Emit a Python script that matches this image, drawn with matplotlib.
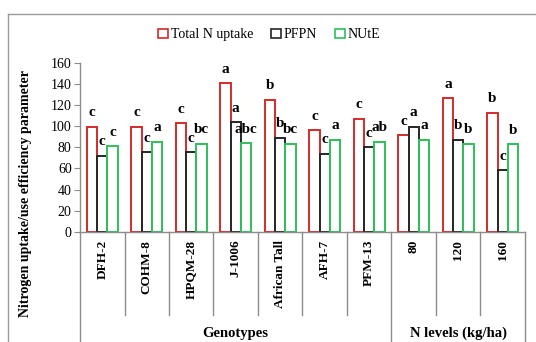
import numpy as np
import matplotlib
import matplotlib.pyplot as plt
from matplotlib.patches import Patch
from matplotlib.transforms import blended_transform_factory

matplotlib.use('agg')

plt.rcParams['font.family'] = ['Liberation Serif', 'DejaVu Serif']

# genotypes first, then the three N doses
categories = ['DFH-2', 'COHM-8', 'HPQM-28', 'J-1006', 'African Tall', 'AFH-7', 'PFM-13',
              '80', '120', '160']
total_n_uptake = [99.5, 99.5, 102.7, 140.3, 124.8, 96.1, 107.1, 91.7, 126.1, 112.8]
pfpn = [72.0, 75.5, 75.5, 103.7, 89.1, 74.0, 80.0, 99.5, 87.2, 58.2]
nute = [81.2, 85.3, 83.4, 84.0, 83.4, 87.2, 85.3, 87.2, 83.4, 82.8]

# DMRT letters
letters_uptake = ['c', 'c', 'c', 'a', 'b', 'c', 'c', 'c', 'a', 'b']
letters_pfpn = ['c', 'c', 'c', 'a', 'b', 'c', 'c', 'a', 'b', 'c']
letters_nute = ['c', 'a', 'bc', 'abc', 'bc', 'a', 'ab', 'a', 'b', 'b']

groups = ['Genotypes', 'N levels (kg/ha)']
group_spans = [(0, 7), (7, 10)]

series = [
    ('Total N uptake', total_n_uptake, letters_uptake, '#d42a2a'),
    ('PFPN', pfpn, letters_pfpn, '#262626'),
    ('NUtE', nute, letters_nute, '#2ec05a'),
]

grey = '#8c8c8c'

fig = plt.figure(figsize=(5.36, 3.42), dpi=100)
ax = fig.add_axes([0.1493, 0.3216, 0.830, 0.4955])

x = np.arange(len(categories))
w = 0.23
for i, (name, vals, lets, col) in enumerate(series):
    xs = x + (i - 1) * w
    ax.bar(xs, vals, width=w, facecolor='white', edgecolor=col, linewidth=1.4)
    for xi, v, t in zip(xs, vals, lets):
        ax.annotate(t, (xi, v), xytext=(0, 10), textcoords='offset points',
                    ha='center', va='center', fontsize=11, fontweight='bold')

ax.set_xlim(-0.5, len(categories) - 0.5)
ax.set_ylim(0, 160)
ax.set_yticks(np.arange(0, 161, 20))
ax.tick_params(axis='y', direction='out', length=4, color=grey, labelsize=10, pad=2)
ax.set_xticks([])
for s in ['top', 'right']:
    ax.spines[s].set_visible(False)
for s in ['left', 'bottom']:
    ax.spines[s].set_color(grey)
    ax.spines[s].set_linewidth(1.0)

ax.set_ylabel('Nitrogen uptake/use efficiency parameter', fontsize=10,
              fontweight='bold')
ax.yaxis.set_label_coords(-0.107, 0.23)

# category labels and separators under the axis
tr = blended_transform_factory(ax.transData, ax.transAxes)
for xi, c in zip(x, categories):
    ax.text(xi, -0.045, c, transform=tr, rotation=90, ha='center', va='top',
            fontsize=9.5, fontweight='bold')
edges = np.arange(len(categories) + 1) - 0.5
long_edges = [-0.5, 6.5, 9.5]
for e in edges:
    y_end = -0.7 if e in long_edges else -0.49
    ax.plot([e, e], [0, y_end], transform=tr, color=grey, lw=1.0, clip_on=False)
for g, (a, b) in zip(groups, group_spans):
    ax.text((a + b - 1) / 2, -0.6, g, transform=tr, ha='center', va='center',
            fontsize=10.5, fontweight='bold')

handles = [Patch(facecolor='white', edgecolor=col, linewidth=1.2, label=name)
           for name, _, _, col in series]
fig.legend(handles=handles, loc='center', bbox_to_anchor=(0.502, 0.898), ncol=3,
           frameon=False, fontsize=10, handlelength=0.7, handleheight=0.7,
           handletextpad=0.2, columnspacing=1.3)

# chart area border (runs off the right and bottom edges)
fig.add_artist(plt.Line2D([8 / 536, 1.0], [1 - 14 / 342] * 2, transform=fig.transFigure,
                          color='#999999', lw=1.0))
fig.add_artist(plt.Line2D([8 / 536] * 2, [0, 1 - 14 / 342], transform=fig.transFigure,
                          color='#999999', lw=1.0))

fig.savefig('out.png', dpi=100)
